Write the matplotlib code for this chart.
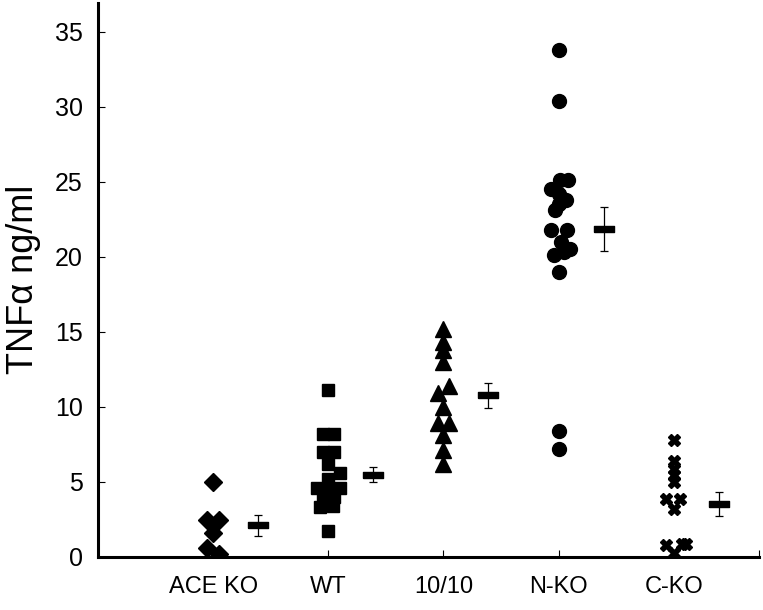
import numpy as np
import matplotlib
matplotlib.use("Agg")
import matplotlib.pyplot as plt

plt.rcParams['font.family'] = ['Liberation Sans', 'DejaVu Sans']

# ===== data =====
groups = ["ACE KO", "WT", "10/10", "N-KO", "C-KO"]

ace_ko = [5.0, 2.45, 2.45, 1.6, 0.6, 0.15]
ace_dx = [0, -0.05, 0.05, 0, -0.05, 0.05]

wt = [11.1, 8.2, 8.2, 7.0, 7.0, 6.2, 5.6, 5.2, 4.6, 4.6, 4.6, 4.0, 4.0, 3.3, 3.4, 1.7]
wt_dx = [0, -0.05, 0.05, -0.05, 0.05, 0, 0.1, 0, -0.1, 0, 0.1, -0.05, 0.05, -0.07, 0.04, 0]

tg = [15.2, 14.3, 13.8, 13.0, 11.4, 10.9, 10.0, 8.9, 8.9, 8.1, 7.1, 6.2]
tg_dx = [0, 0, 0, 0, 0.05, -0.05, 0, -0.05, 0.05, 0, 0, 0]

nko = [33.8, 30.4, 25.1, 25.1, 24.5, 24.2, 23.8, 23.5, 23.1, 21.8, 21.8, 21.0, 20.5, 20.1, 20.3, 19.0, 8.4, 7.2]
nko_dx = [0, 0, 0.01, 0.08, -0.07, 0, 0.06, 0, -0.03, -0.07, 0.07, 0.02, 0.1, -0.04, 0.05, 0, 0, 0]

cko = [7.75, 6.35, 5.85, 5.45, 5.0, 3.85, 3.85, 3.15, 0.75, 0.85, 0.85, 0.25]
cko_dx = [0, 0, 0, 0, 0, -0.07, 0.05, 0, -0.07, 0.07, 0.11, 0]

means = [2.1, 5.45, 10.75, 21.85, 3.5]
errs = [0.7, 0.5, 0.85, 1.45, 0.8]

markers = ["D", "s", "^", "o", "X"]
sizes = [9, 9, 11, 10, 9]

points = [ace_ko, wt, tg, nko, cko]
offsets = [ace_dx, wt_dx, tg_dx, nko_dx, cko_dx]

fig = plt.figure(figsize=(7.63, 6.10), dpi=100)
ax = fig.add_axes([0.1284, 0.0874, 0.8664, 0.9076])

for i, (vals, dx) in enumerate(zip(points, offsets)):
    xs = i + 1 + np.array(dx)
    ax.plot(xs, vals, linestyle="none", marker=markers[i], ms=sizes[i],
            color="black", mec="black")

# mean marker is a flat black bar with thin error bars
bar_marker = [(-1, -0.33), (1, -0.33), (1, 0.33), (-1, 0.33), (-1, -0.33)]
xpos = np.arange(1, len(groups) + 1) + 0.39
ax.errorbar(xpos, means, yerr=errs, fmt="none", ecolor="black",
            elinewidth=0.9, capsize=2.9, capthick=0.9)
ax.plot(xpos, means, linestyle="none", marker=bar_marker, ms=14.5,
        color="black")

ax.set_xlim(0, 5.74)
ax.set_ylim(0, 36.9)
ax.set_yticks(range(0, 36, 5))
ax.set_xticks([1, 2, 3, 4, 5, 5.74])
ax.set_xticklabels(groups + [""])

for s in ["top", "right"]:
    ax.spines[s].set_visible(False)
for s in ["left", "bottom"]:
    ax.spines[s].set_linewidth(2.2)

ax.tick_params(axis="y", direction="in", length=5, width=0.8, labelsize=18, pad=11)
ax.tick_params(axis="x", direction="in", length=5, width=0.8, labelsize=17, pad=14)

ax.set_ylabel("TNFα ng/ml", fontsize=26, labelpad=10)

fig.savefig("out.png", dpi=100)
